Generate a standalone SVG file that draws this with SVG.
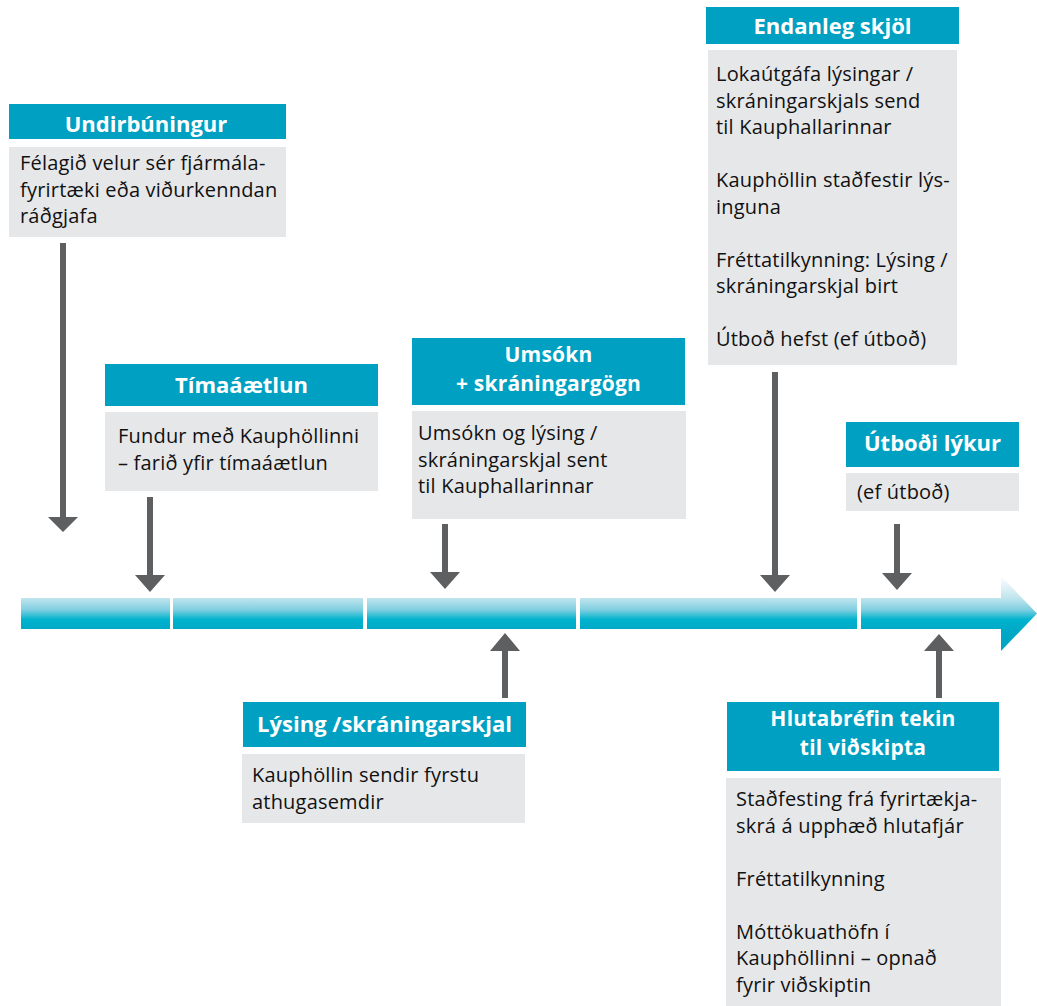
<svg xmlns="http://www.w3.org/2000/svg" width="1037" height="1006" viewBox="0 0 1037 1006">
<defs>
<linearGradient id="barGrad" gradientUnits="userSpaceOnUse" x1="0" y1="576" x2="0" y2="651">
<stop offset="0" stop-color="#ffffff"/>
<stop offset="0.29" stop-color="#c2e5ee"/>
<stop offset="0.45" stop-color="#80cfe0"/>
<stop offset="0.58" stop-color="#00b3ce"/>
<stop offset="0.71" stop-color="#00a9c7"/>
<stop offset="1" stop-color="#00a3c2"/>
</linearGradient>
<style>
.hdr{fill:#00a0c2}
.body{fill:#e6e7e9}
.ht{font-family:"Open Sans","Noto Sans","Liberation Sans",sans-serif;font-weight:bold;font-size:22px;fill:#ffffff;text-anchor:middle}
.ht2{font-size:21px;letter-spacing:0.2px}
.bt{font-family:"Open Sans","Noto Sans","Liberation Sans",sans-serif;font-size:20px;letter-spacing:0.2px;fill:#111111}
.arr{fill:#5e5f61}
.bar{fill:url(#barGrad)}
</style>
</defs>
<rect width="1037" height="1006" fill="#ffffff"/>

<g id="timeline">
<rect class="bar" x="21" y="598" width="149" height="31"/>
<rect class="bar" x="173" y="598" width="190" height="31"/>
<rect class="bar" x="367" y="598" width="209" height="31"/>
<rect class="bar" x="580" y="598" width="277" height="31"/>
<path class="bar" d="M861,598 H1001 V576 L1037,613.5 L1001,651 V629 H861 Z"/>
</g>

<g id="connectors">
<path class="arr" d="M60,243 H66 V517 H78 L63,532 L48,517 H60 Z"/>
<path class="arr" d="M147,497 H153 V575 H165 L150,592 L135,575 H147 Z"/>
<path class="arr" d="M442,524 H448 V572 H460 L445,589 L430,572 H442 Z"/>
<path class="arr" d="M772,372 H778 V575 H790 L775,592 L760,575 H772 Z"/>
<path class="arr" d="M894,524 H900 V573 H912 L897,590 L882,573 H894 Z"/>
<path class="arr" d="M502,698 H508 V651 H520 L505,633 L490,651 H502 Z"/>
<path class="arr" d="M936,698 H942 V651 H954 L939,634 L924,651 H936 Z"/>
</g>

<g id="undirbuningur">
<rect class="hdr" x="9" y="104" width="277" height="35"/>
<text class="ht" x="146" y="132">Undirbúningur</text>
<rect class="body" x="9" y="147" width="277" height="90"/>
<text class="bt" x="20" y="170">Félagið velur sér fjármála-</text>
<text class="bt" x="20" y="196.5">fyrirtæki eða viðurkenndan</text>
<text class="bt" x="20" y="223">ráðgjafa</text>
</g>

<g id="timaaaetlun">
<rect class="hdr" x="105" y="364" width="273" height="42"/>
<text class="ht" x="241.5" y="393">Tímaáætlun</text>
<rect class="body" x="105" y="412" width="273" height="79"/>
<text class="bt" x="118" y="443">Fundur með Kauphöllinni</text>
<text class="bt" x="118" y="469.5">– farið yfir tímaáætlun</text>
</g>

<g id="umsokn">
<rect class="hdr" x="412" y="338" width="273" height="67"/>
<text class="ht ht2" x="548.5" y="362">Umsókn</text>
<text class="ht ht2" x="548.5" y="391">+ skráningargögn</text>
<rect class="body" x="412" y="411" width="274" height="108"/>
<text class="bt" x="418" y="440">Umsókn og lýsing /</text>
<text class="bt" x="418" y="466.5">skráningarskjal sent</text>
<text class="bt" x="418" y="493">til Kauphallarinnar</text>
</g>

<g id="lysing">
<rect class="hdr" x="243" y="702" width="283" height="45"/>
<text class="ht" x="384.5" y="732">Lýsing /skráningarskjal</text>
<rect class="body" x="242" y="754" width="283" height="69"/>
<text class="bt" x="252" y="782">Kauphöllin sendir fyrstu</text>
<text class="bt" x="252" y="808.5">athugasemdir</text>
</g>

<g id="endanleg">
<rect class="hdr" x="706" y="7" width="253" height="37"/>
<text class="ht" x="832.5" y="34">Endanleg skjöl</text>
<rect class="body" x="708" y="50" width="249" height="315"/>
<text class="bt" x="716" y="81">Lokaútgáfa lýsingar /</text>
<text class="bt" x="716" y="107.5">skráningarskjals send</text>
<text class="bt" x="716" y="134">til Kauphallarinnar</text>
<text class="bt" x="716" y="187">Kauphöllin staðfestir lýs-</text>
<text class="bt" x="716" y="213.5">inguna</text>
<text class="bt" x="716" y="266.5">Fréttatilkynning: Lýsing /</text>
<text class="bt" x="716" y="293">skráningarskjal birt</text>
<text class="bt" x="716" y="346">Útboð hefst (ef útboð)</text>
</g>

<g id="utbodi">
<rect class="hdr" x="846" y="422" width="173" height="45"/>
<text class="ht" x="932.5" y="451">Útboði lýkur</text>
<rect class="body" x="846" y="473" width="173" height="38"/>
<text class="bt" x="857" y="499">(ef útboð)</text>
</g>

<g id="hlutabrefin">
<rect class="hdr" x="727" y="702" width="272" height="69"/>
<text class="ht ht2" x="863" y="726">Hlutabréfin tekin</text>
<text class="ht ht2" x="863" y="755">til viðskipta</text>
<rect class="body" x="726" y="778" width="275" height="228"/>
<text class="bt" x="736" y="806">Staðfesting frá fyrirtækja-</text>
<text class="bt" x="736" y="832.5">skrá á upphæð hlutafjár</text>
<text class="bt" x="736" y="885.5">Fréttatilkynning</text>
<text class="bt" x="736" y="938.5">Móttökuathöfn í</text>
<text class="bt" x="736" y="965">Kauphöllinni – opnað</text>
<text class="bt" x="736" y="991.5">fyrir viðskiptin</text>
</g>
</svg>
